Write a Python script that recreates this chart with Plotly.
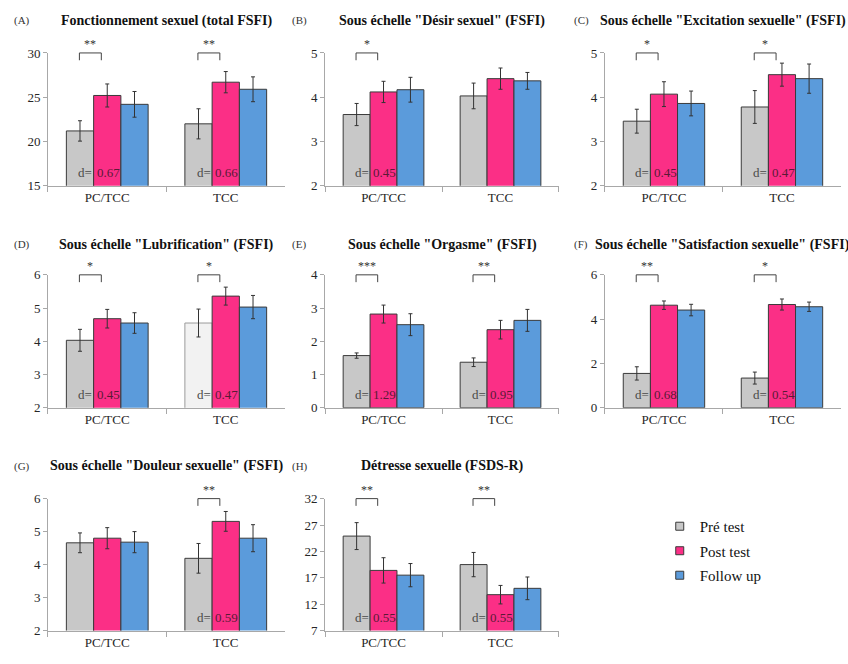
import plotly.graph_objects as go

# ---------------------------------------------------------------------------
# Data: mean scores (bars) and error-bar half widths, per group
# order inside each list: [PC/TCC, TCC]
# ---------------------------------------------------------------------------
categories = ["PC/TCC", "TCC"]
series_names = ["Pré test", "Post test", "Follow up"]

total_fsfi_pre = [21.2, 22.0]
total_fsfi_post = [25.2, 26.7]
total_fsfi_follow = [24.2, 25.9]
total_fsfi_err = [[1.15, 1.7], [1.3, 1.2], [1.45, 1.4]]

desir_pre = [3.61, 4.03]
desir_post = [4.12, 4.42]
desir_follow = [4.17, 4.37]
desir_err = [[0.25, 0.29], [0.24, 0.24], [0.28, 0.19]]

excitation_pre = [3.46, 3.78]
excitation_post = [4.07, 4.51]
excitation_follow = [3.86, 4.42]
excitation_err = [[0.27, 0.37], [0.28, 0.26], [0.28, 0.33]]

lubrification_pre = [4.03, 4.55]
lubrification_post = [4.68, 5.36]
lubrification_follow = [4.55, 5.03]
lubrification_err = [[0.33, 0.42], [0.28, 0.27], [0.31, 0.35]]

orgasme_pre = [1.57, 1.37]
orgasme_post = [2.82, 2.35]
orgasme_follow = [2.50, 2.63]
orgasme_err = [[0.08, 0.13], [0.27, 0.28], [0.33, 0.33]]

satisfaction_pre = [1.55, 1.34]
satisfaction_post = [4.63, 4.66]
satisfaction_follow = [4.41, 4.56]
satisfaction_err = [[0.30, 0.27], [0.19, 0.25], [0.26, 0.21]]

douleur_pre = [4.66, 4.19]
douleur_post = [4.80, 5.31]
douleur_follow = [4.68, 4.80]
douleur_err = [[0.30, 0.45], [0.32, 0.30], [0.32, 0.41]]

detresse_pre = [24.9, 19.5]
detresse_post = [18.4, 13.8]
detresse_follow = [17.5, 15.0]
detresse_err = [[2.55, 2.3], [2.4, 1.75], [2.2, 2.15]]

panel_letters = ["(A)", "(B)", "(C)", "(D)", "(E)", "(F)", "(G)", "(H)"]
panel_titles = [
    "Fonctionnement sexuel (total FSFI)",
    'Sous échelle "Désir sexuel" (FSFI)',
    'Sous échelle "Excitation sexuelle" (FSFI)',
    'Sous échelle "Lubrification" (FSFI)',
    'Sous échelle "Orgasme" (FSFI)',
    'Sous échelle "Satisfaction sexuelle" (FSFI)',
    'Sous échelle "Douleur sexuelle" (FSFI)',
    "Détresse sexuelle (FSDS-R)",
]
y_ranges = [[15, 30], [2, 5], [2, 5], [2, 6], [0, 4], [0, 6], [2, 6], [7, 32]]
y_dticks = [5, 1, 1, 1, 1, 2, 1, 5]

# significance of pre -> post change, per group (None = not significant)
significance = [
    ["**", "**"], ["*", None], ["*", "*"], ["*", "*"],
    ["***", "**"], ["**", "*"], [None, "**"], ["**", "**"],
]
# Cohen's d of pre -> post change, per group
effect_sizes = [
    ["0.67", "0.66"], ["0.45", None], ["0.45", "0.47"], ["0.45", "0.47"],
    ["1.29", "0.95"], ["0.68", "0.54"], [None, "0.59"], ["0.55", "0.55"],
]

panel_means = [
    [total_fsfi_pre, total_fsfi_post, total_fsfi_follow],
    [desir_pre, desir_post, desir_follow],
    [excitation_pre, excitation_post, excitation_follow],
    [lubrification_pre, lubrification_post, lubrification_follow],
    [orgasme_pre, orgasme_post, orgasme_follow],
    [satisfaction_pre, satisfaction_post, satisfaction_follow],
    [douleur_pre, douleur_post, douleur_follow],
    [detresse_pre, detresse_post, detresse_follow],
]
panel_errors = [total_fsfi_err, desir_err, excitation_err, lubrification_err,
                orgasme_err, satisfaction_err, douleur_err, detresse_err]

# ---------------------------------------------------------------------------
# Styling
# ---------------------------------------------------------------------------
SERIF = "Liberation Serif"
fill_colors = ["#c8c8c8", "#fb2f86", "#5b9bdb"]
edge_color = "#3a3a3a"
axis_color = "#a8a8a8"
text_color = "#262626"

col_domains = [[0.0566, 0.3361], [0.3833, 0.6592], [0.7134, 0.9917]]
row_domains = [[0.7244, 0.9292], [0.3825, 0.5873], [0.0392, 0.2425]]
title_y = [0.979, 0.634, 0.292]
letter_x = [0.014, 0.342, 0.675]

BARGAP = 0.31
bar_w = (1 - BARGAP) / 3

fig = go.Figure()
shapes = []
annotations = []

for p in range(8):
    row, col = divmod(p, 3)
    ax_id = "" if p == 0 else str(p + 1)
    xref, yref = "x" + ax_id, "y" + ax_id

    for s in range(3):
        colors = [fill_colors[s]] * 2
        edges = [edge_color] * 2
        if p == 3 and s == 0:
            # lighter pre-test bar for the TCC group in the lubrification panel
            colors = [fill_colors[0], "#f2f2f2"]
            edges = [edge_color, "#9a9a9a"]
        fig.add_trace(go.Bar(
            x=categories,
            y=panel_means[p][s],
            name=series_names[s],
            showlegend=False,
            xaxis=xref, yaxis=yref,
            marker=dict(color=colors, line=dict(color=edges, width=1)),
            error_y=dict(type="data", array=panel_errors[p][s],
                         color="#333333", thickness=1, width=2),
        ))

    x_layout = dict(
        domain=col_domains[col], anchor=yref, type="category",
        showline=True, linecolor=axis_color, linewidth=1,
        ticks="outside", tickson="boundaries", ticklen=5, tickcolor=axis_color,
        tickfont=dict(family=SERIF, size=13, color=text_color),
        showgrid=False, zeroline=False, fixedrange=True,
    )
    lo, hi = y_ranges[p]
    y_layout = dict(
        domain=row_domains[row], anchor=xref, range=[lo, hi],
        tickmode="linear", tick0=lo, dtick=y_dticks[p],
        showline=True, linecolor=axis_color, linewidth=1,
        ticks="outside", ticklen=4, tickcolor=axis_color,
        tickfont=dict(family=SERIF, size=13, color=text_color),
        showgrid=False, zeroline=False, fixedrange=True,
    )
    fig.update_layout(**{"xaxis" + ax_id: x_layout, "yaxis" + ax_id: y_layout})

    # panel title and letter
    annotations.append(dict(
        xref="paper", yref="paper",
        x=sum(col_domains[col]) / 2, y=title_y[row],
        text="<b>" + panel_titles[p] + "</b>", showarrow=False,
        xanchor="center", yanchor="middle",
        font=dict(family=SERIF, size=14, color="#111111"),
    ))
    annotations.append(dict(
        xref="paper", yref="paper", x=letter_x[col], y=title_y[row],
        text=panel_letters[p], showarrow=False,
        xanchor="left", yanchor="middle",
        font=dict(family=SERIF, size=11, color="#333333"),
    ))

    for g in range(2):
        # pre -> post significance bracket
        stars = significance[p][g]
        if stars:
            xl, xr = g - bar_w - 0.005, g - 0.05
            ytop, ybot = 1.0, 0.945
            for (x0, y0, x1, y1) in [(xl, ybot, xl, ytop), (xl, ytop, xr, ytop),
                                     (xr, ytop, xr, ybot)]:
                shapes.append(dict(type="line", xref=xref, yref=yref + " domain",
                                   x0=x0, y0=y0, x1=x1, y1=y1,
                                   line=dict(color="#444444", width=1)))
            annotations.append(dict(
                xref=xref, yref=yref + " domain", x=(xl + xr) / 2, y=1.005,
                text=stars, showarrow=False, xanchor="center", yanchor="bottom",
                borderpad=0,
                font=dict(family=SERIF, size=12, color="#333333"),
            ))
        # effect size label at the bottom of the pre/post bars
        d = effect_sizes[p][g]
        if d:
            boundary = g - bar_w / 2
            annotations.append(dict(
                xref=xref, yref=yref + " domain", x=boundary + 0.005, y=0.1,
                text="d=", showarrow=False, xanchor="right", yanchor="middle",
                font=dict(family=SERIF, size=13, color="#4a4a4a"),
            ))
            annotations.append(dict(
                xref=xref, yref=yref + " domain", x=boundary + 0.01, y=0.1,
                text=d, showarrow=False, xanchor="left", yanchor="middle",
                font=dict(family=SERIF, size=13, color="#5a1a36"),
            ))

# legend entries
for s in range(3):
    fig.add_trace(go.Scatter(
        x=[None], y=[None], mode="markers", name=series_names[s],
        legendgroup=series_names[s],
        marker=dict(symbol="square", size=8, color=fill_colors[s],
                    line=dict(color=edge_color, width=1)),
        xaxis="x8", yaxis="y8", showlegend=True,
    ))

fig.update_layout(
    width=848, height=664,
    margin=dict(l=0, r=0, t=0, b=0),
    paper_bgcolor="white", plot_bgcolor="white",
    barmode="group", bargap=BARGAP, bargroupgap=0,
    shapes=shapes, annotations=annotations,
    font=dict(family=SERIF),
    legend=dict(
        x=0.778, y=0.225, xanchor="left", yanchor="top",
        font=dict(family=SERIF, size=15, color="#111111"),
        traceorder="grouped", tracegroupgap=2,
        bgcolor="rgba(0,0,0,0)",
    ),
)

fig.write_html("out.html")
